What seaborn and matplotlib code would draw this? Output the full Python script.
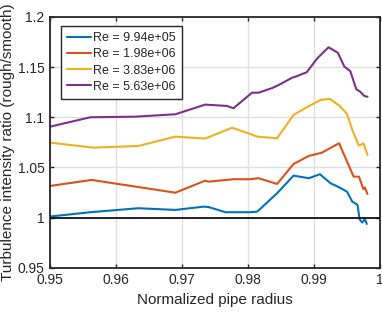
import numpy as np
import pandas as pd
import matplotlib
matplotlib.use("Agg")
import matplotlib.pyplot as plt
import seaborn as sns

labels = ["Re = 9.94e+05", "Re = 1.98e+06", "Re = 3.83e+06", "Re = 5.63e+06"]
colors = ["#0072BD", "#D95319", "#EDB120", "#7E2F8E"]

x_blue = [0.9500, 0.9561, 0.9634, 0.9690, 0.9733, 0.9740, 0.9766, 0.9803, 0.9814, 0.9844, 0.9869,
          0.9892, 0.9909, 0.9925, 0.9938, 0.9950, 0.9958, 0.9966, 0.9969, 0.9973, 0.9977, 0.9980]
y_blue = [1.0010, 1.0053, 1.0093, 1.0076, 1.0109, 1.0105, 1.0053, 1.0053, 1.0059, 1.0242, 1.0418,
          1.0392, 1.0432, 1.0342, 1.0302, 1.0258, 1.0159, 1.0126, 0.9983, 0.9950, 0.9983, 0.9936]

x_orange = [0.9500, 0.9563, 0.9690, 0.9735, 0.9740, 0.9778, 0.9803, 0.9816, 0.9844, 0.9869, 0.9892,
            0.9912, 0.9938, 0.9960, 0.9968, 0.9975, 0.9977, 0.9981]
y_orange = [1.0315, 1.0375, 1.0248, 1.0368, 1.0358, 1.0382, 1.0382, 1.0392, 1.0335, 1.0534, 1.0614,
            1.0647, 1.0741, 1.0408, 1.0408, 1.0282, 1.0300, 1.0235]

x_yellow = [0.9500, 0.9566, 0.9634, 0.9690, 0.9735, 0.9776, 0.9803, 0.9814, 0.9844, 0.9869, 0.9889,
            0.9910, 0.9924, 0.9939, 0.9950, 0.9959, 0.9968, 0.9975, 0.9981]
y_yellow = [1.0747, 1.0697, 1.0714, 1.0807, 1.0787, 1.0896, 1.0834, 1.0807, 1.0790, 1.1023, 1.1100,
            1.1173, 1.1183, 1.1113, 1.1033, 1.0856, 1.0717, 1.0740, 1.0624]

x_purple = [0.9500, 0.9561, 0.9629, 0.9690, 0.9735, 0.9768, 0.9778, 0.9806, 0.9816, 0.9836, 0.9846,
            0.9867, 0.9872, 0.9889, 0.9905, 0.9922, 0.9936, 0.9946, 0.9955, 0.9964, 0.9970, 0.9975,
            0.9977, 0.9981]
y_purple = [1.0906, 1.1000, 1.1006, 1.1030, 1.1126, 1.1113, 1.1090, 1.1245, 1.1245, 1.1290, 1.1320,
            1.1395, 1.1405, 1.1449, 1.1588, 1.1698, 1.1644, 1.1505, 1.1460, 1.1280, 1.1255, 1.1220,
            1.1210, 1.1205]

frames = []
for lab, xs, ys in zip(labels, [x_blue, x_orange, x_yellow, x_purple],
                       [y_blue, y_orange, y_yellow, y_purple]):
    frames.append(pd.DataFrame({"r": xs, "ratio": ys, "series": lab}))
df = pd.concat(frames, ignore_index=True)

sns.set_style("ticks")
plt.rcParams["font.family"] = ["Liberation Sans", "DejaVu Sans"]

fig = plt.figure(figsize=(3.82, 3.14), dpi=100)
ax = fig.add_axes([0.1309, 0.1475, 0.8639, 0.7984])

sns.lineplot(data=df, x="r", y="ratio", hue="series", palette=colors,
             hue_order=labels, sort=False, estimator=None, linewidth=1.5, ax=ax)
ax.axhline(1.0, color="black", linewidth=1.2, zorder=3)

ax.set_xlim(0.95, 1.0)
ax.set_ylim(0.95, 1.2)
ax.set_xticks([0.95, 0.96, 0.97, 0.98, 0.99, 1.0])
ax.set_xticklabels(["0.95", "0.96", "0.97", "0.98", "0.99", "1"])
ax.set_yticks([0.95, 1.0, 1.05, 1.1, 1.15, 1.2])
ax.set_yticklabels(["0.95", "1", "1.05", "1.1", "1.15", "1.2"])
ax.grid(True, color="#DFDFDF", linewidth=1.0)
ax.set_axisbelow(True)
for s in ax.spines.values():
    s.set_visible(True)
    s.set_color("#262626")
    s.set_linewidth(1.3)
ax.tick_params(direction="in", length=3, width=1.0, top=True, right=True,
               labelsize=10, colors="#262626", pad=4)
ax.set_xlabel("Normalized pipe radius", fontsize=11, color="#262626")
ax.set_ylabel("Turbulence intensity ratio (rough/smooth)", fontsize=11, color="#262626", labelpad=2)

leg = ax.legend(loc="upper left", bbox_to_anchor=(0.033, 0.965), borderaxespad=0,
                fontsize=9, frameon=True, fancybox=False, handlelength=1.9,
                handletextpad=0.2, labelspacing=0.34, borderpad=0.5)
leg.get_frame().set_edgecolor("#262626")
leg.get_frame().set_linewidth(1.0)
leg.get_frame().set_alpha(1)

fig.savefig("out.png", dpi=100)
